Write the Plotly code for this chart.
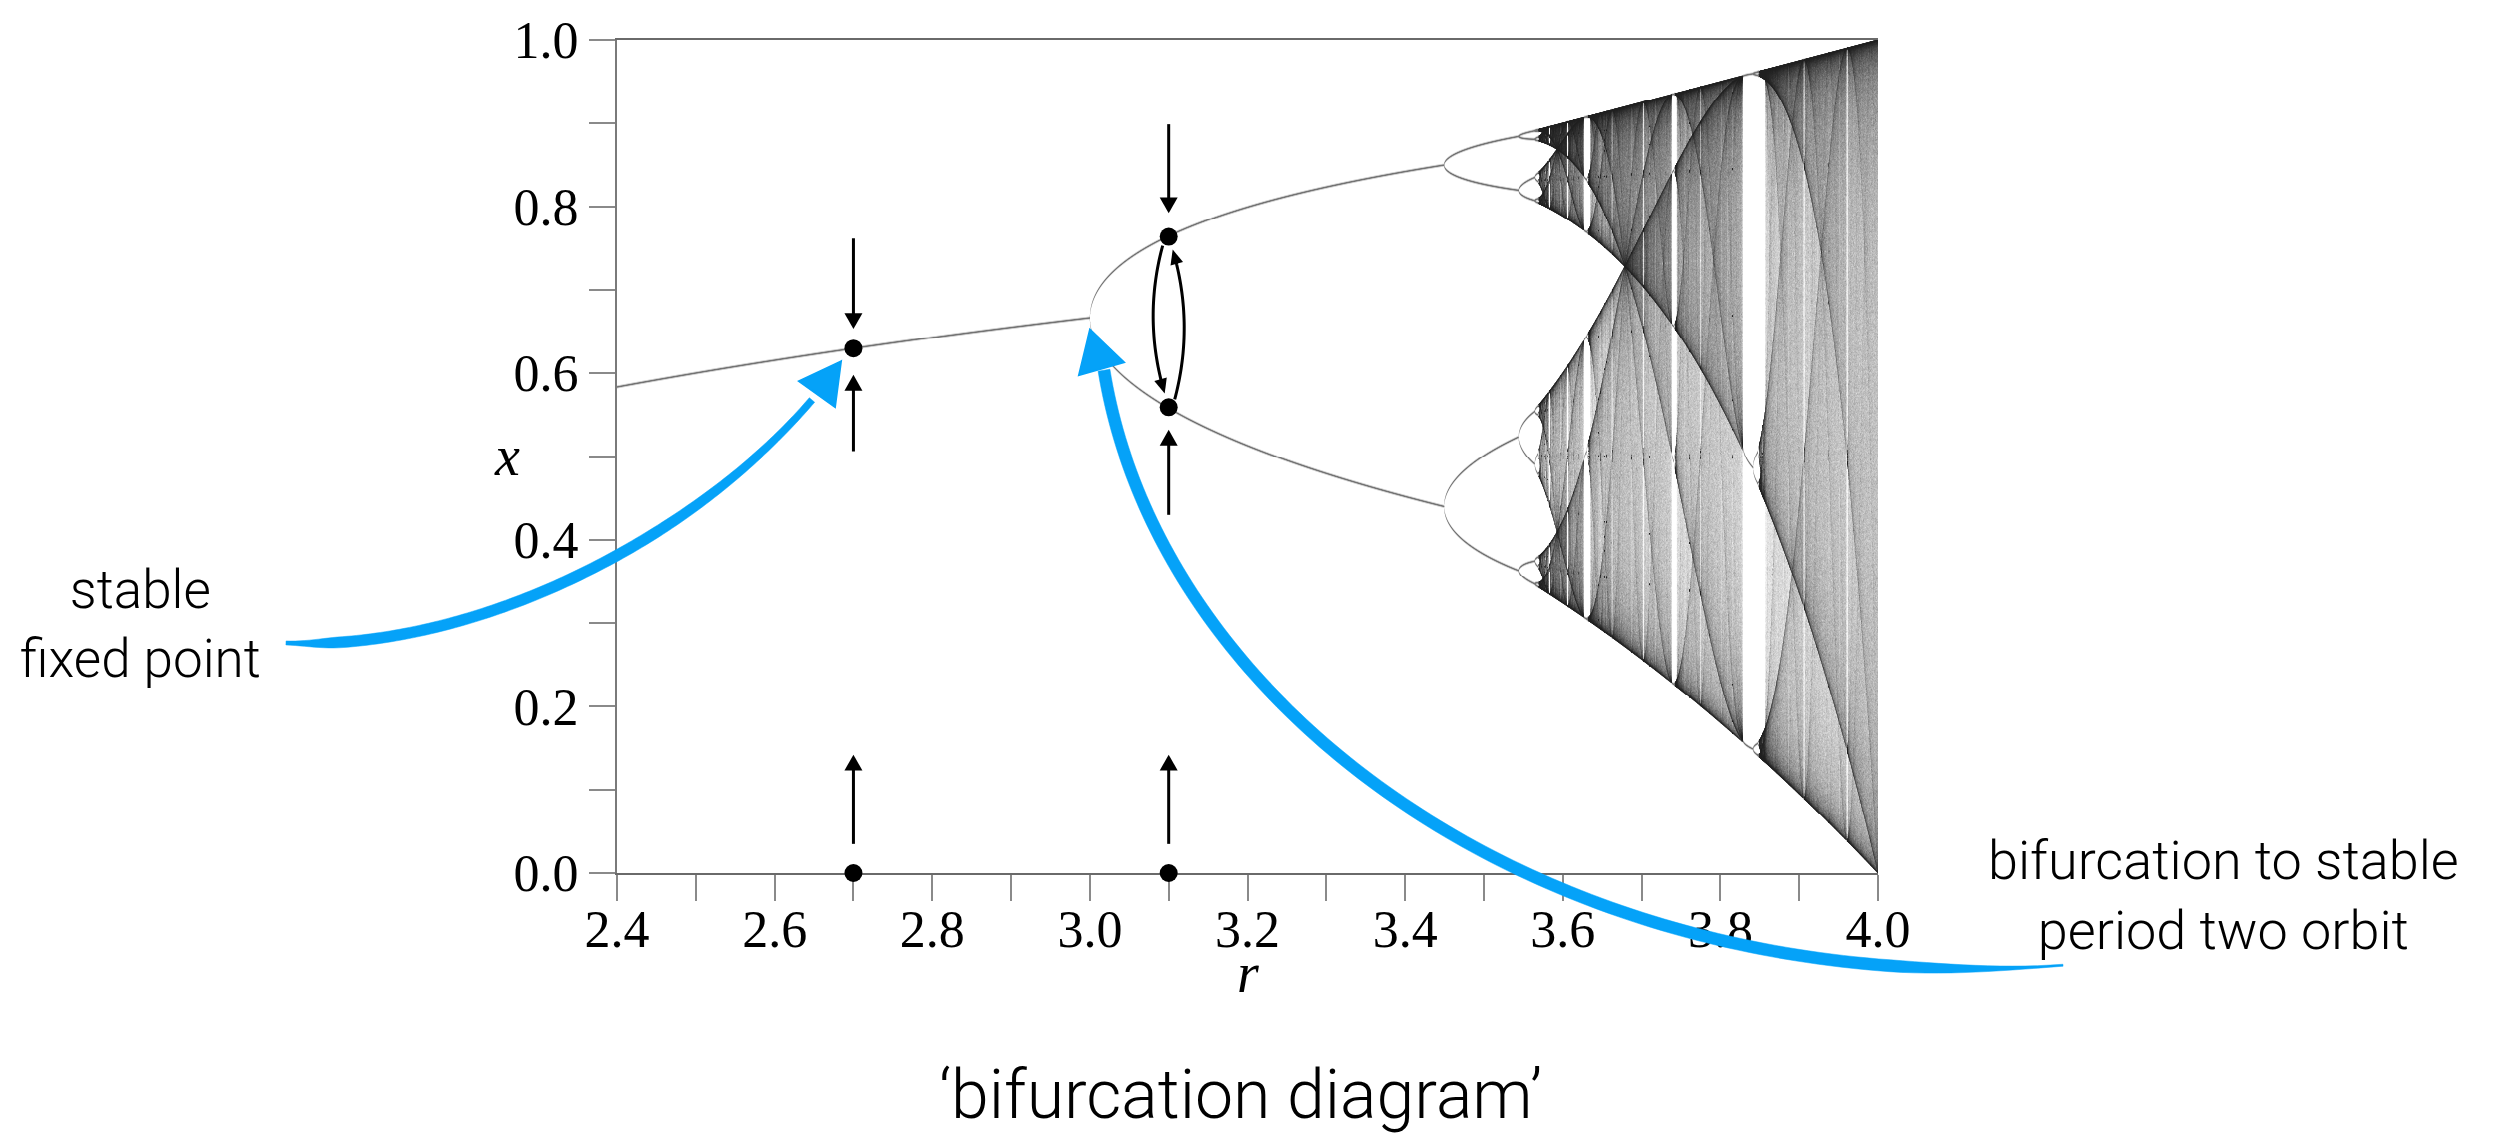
import numpy as np
import plotly.graph_objects as go

# ---------------- logistic map sweep: x -> r x (1 - x) ----------------
R_RANGE = [2.4, 4.0]
X_RANGE = [0.0, 1.0]
N_COLS, N_ROWS = 1261, 840        # one heatmap cell per screen pixel
SUB = 6                            # r samples per column
N_TRANSIENT = 20000
N_KEEP = 6000
X_START = 0.2371

# marked orbit points (fixed point at r = 2.7, period-two orbit at r = 3.1, x = 0)
point_r = [2.7, 3.1, 3.1, 2.7, 3.1]
point_x = [0.63, 0.764, 0.559, 0.0, 0.0]

# straight arrows at fixed r: tail value and tip value of x
arrow_r = [2.7, 2.7, 2.7, 3.1, 3.1, 3.1]
arrow_tail = [0.762, 0.506, 0.035, 0.899, 0.430, 0.035]
arrow_tip = [0.653, 0.598, 0.142, 0.792, 0.532, 0.142]

# hops of the period-two orbit at r = 3.1
hop_r = 3.1
hop_from = [0.764, 0.559]
hop_to = [0.559, 0.764]

x_tick_vals = [2.4, 2.6, 2.8, 3.0, 3.2, 3.4, 3.6, 3.8, 4.0]
x_tick_text = ["2.4", "2.6", "2.8", "3.0", "3.2", "3.4", "3.6", "3.8", "4.0"]
x_minor_vals = [2.5, 2.7, 2.9, 3.1, 3.3, 3.5, 3.7, 3.9]
y_tick_vals = [0.0, 0.2, 0.4, 0.6, 0.8, 1.0]
y_tick_text = ["0.0", "0.2", "0.4", "0.6", "0.8", "1.0"]
y_minor_vals = [0.1, 0.3, 0.5, 0.7, 0.9]

# ---------------- page geometry ----------------
W, H = 2495, 1135
PL, PT, PW, PH = 617, 33, 1261, 840
BLUE = "#05a2f8"


def d2px(r, x):
    px = PL + (r - R_RANGE[0]) / (R_RANGE[1] - R_RANGE[0]) * PW
    py = PT + (1 - (x - X_RANGE[0]) / (X_RANGE[1] - X_RANGE[0])) * PH
    return px, py


def px2paper(px, py):
    return (px - PL) / PW, (PT + PH - py) / PH


def path_str(pts, close=False):
    s = []
    for i, (px, py) in enumerate(pts):
        u, v = px2paper(px, py)
        s.append(("M" if i == 0 else "L") + f"{u:.5f},{v:.5f}")
    return " ".join(s) + (" Z" if close else "")


# ---------------- density image of the attractor ----------------
n = N_COLS * SUB
r_grid = R_RANGE[0] + (np.arange(n) + 0.5) / n * (R_RANGE[1] - R_RANGE[0])
col_of = np.arange(n) // SUB
x = np.full(n, X_START)
for _ in range(N_TRANSIENT):
    x = r_grid * x * (1.0 - x)

tail = np.empty((96, n))
for k in range(96):
    x = r_grid * x * (1.0 - x)
    tail[k] = x

period = np.zeros(n, dtype=int)
for P in range(1, 33):
    ok = np.max(np.abs(tail[-64:] - tail[-64 - P:-P]), axis=0) < 2e-4
    period[(period == 0) & ok] = P

line_acc = np.zeros(N_ROWS * N_COLS)
dens_acc = np.zeros(N_ROWS * N_COLS)


def splat(acc, vals, cols, w):
    cols = np.broadcast_to(cols, vals.shape).ravel()
    pos = vals.ravel() * N_ROWS - 0.5
    i0 = np.floor(pos).astype(np.int64)
    f = pos - i0
    for idx, ww in ((i0, (1.0 - f) * w), (i0 + 1, f * w)):
        ok = (idx >= 0) & (idx < N_ROWS)
        acc += np.bincount(idx[ok] * N_COLS + cols[ok], weights=ww[ok],
                           minlength=N_ROWS * N_COLS)


for P in np.unique(period[period > 0]):
    sel = period == P
    splat(line_acc, tail[-P:, sel], col_of[sel], 1.0)

chaotic = period == 0
xc, rc, cc = x[chaotic], r_grid[chaotic], col_of[chaotic]
CHUNK = 250
for _ in range(N_KEEP // CHUNK):
    block = np.empty((CHUNK, xc.size))
    for k in range(CHUNK):
        xc = rc * xc * (1.0 - xc)
        block[k] = xc
    splat(dens_acc, block, cc, 1.0 / N_KEEP)

L = (line_acc / SUB).reshape(N_ROWS, N_COLS)
# soften the periodic branches into ~1.5 px anti-aliased strokes
Lb = L.copy()
Lb[1:] += 0.3 * L[:-1]
Lb[:-1] += 0.3 * L[1:]
D = (dens_acc / SUB).reshape(N_ROWS, N_COLS)
dark = np.maximum(0.55 * np.clip(1.3 * Lb, 0, 1), 0.88 * (1 - np.exp(-420.0 * D)))
z = np.round(dark * 255).astype(np.uint8)

dx = (R_RANGE[1] - R_RANGE[0]) / N_COLS
dy = (X_RANGE[1] - X_RANGE[0]) / N_ROWS

fig = go.Figure()
fig.add_trace(go.Heatmap(
    z=z, x0=R_RANGE[0] + dx / 2, dx=dx, y0=X_RANGE[0] + dy / 2, dy=dy,
    colorscale=[[0, "rgba(0,0,0,0)"], [1, "rgba(0,0,0,1)"]], zmin=0, zmax=255,
    showscale=False, hoverinfo="skip", zsmooth=False,
))
fig.add_trace(go.Scatter(
    x=point_r, y=point_x, mode="markers",
    marker=dict(size=18, color="black"), cliponaxis=False, hoverinfo="skip",
))

shapes = []


def arrow(points, color, lw, head_len, head_w):
    """Polyline in px ending in a filled triangular head."""
    pts = np.asarray(points, dtype=float)
    tip = pts[-1]
    d = tip - pts[-2]
    d /= np.hypot(*d)
    base = tip - d * head_len
    keep = [p for p in pts[:-1] if np.dot(tip - p, d) > head_len]
    shaft = keep + [base + d * 2]
    perp = np.array([-d[1], d[0]])
    head = [tip, base + perp * head_w / 2, base - perp * head_w / 2]
    shapes.append(dict(type="path", path=path_str(shaft), xref="paper", yref="paper",
                       line=dict(color=color, width=lw), layer="above"))
    shapes.append(dict(type="path", path=path_str(head, close=True), xref="paper",
                       yref="paper", line=dict(color=color, width=0),
                       fillcolor=color, layer="above"))


for r, a, b in zip(arrow_r, arrow_tail, arrow_tip):
    arrow([d2px(r, a), d2px(r, b)], "black", 3, 16, 18)

# curved hops between the two orbit points
for xa, xb in zip(hop_from, hop_to):
    pa = np.array(d2px(hop_r, xa))
    pb = np.array(d2px(hop_r, xb))
    side = -1 if xb < xa else 1          # downward hop bows left, upward bows right
    start = pa + np.array([side * 6, 9 if xb < xa else -8])
    end = pb + np.array([side * 4, -14 if xb < xa else 13])
    ctrl = np.array([pa[0] + side * 26, (start[1] + end[1]) / 2])
    t = np.linspace(0, 1, 40)[:, None]
    curve = (1 - t) ** 2 * start + 2 * (1 - t) * t * ctrl + t ** 2 * end
    arrow(curve, "black", 3, 15, 13)


# brush-stroke call-out arrows (cubic Bezier spines in px)
def bezier(p0, p1, p2, p3, m=120):
    t = np.linspace(0, 1, m)[:, None]
    p0, p1, p2, p3 = (np.asarray(p, dtype=float) for p in (p0, p1, p2, p3))
    return ((1 - t) ** 3 * p0 + 3 * (1 - t) ** 2 * t * p1
            + 3 * (1 - t) * t ** 2 * p2 + t ** 3 * p3)


def ribbon(curve, widths):
    g = np.gradient(curve, axis=0)
    g /= np.hypot(g[:, 0], g[:, 1])[:, None]
    nrm = np.stack([-g[:, 1], g[:, 0]], axis=1)
    left = curve + nrm * widths[:, None] / 2
    right = curve - nrm * widths[:, None] / 2
    return np.vstack([left, right[::-1]])


def smooth(a, b, t):
    s = np.clip((t - a) / (b - a), 0, 1)
    return s * s * (3 - 2 * s)


callouts = [
    dict(ctrl=[(286, 641), (470, 650), (690, 540), (812, 396)],
         head=[(841, 357), (799, 377), (835, 403)],
         width=lambda t: 4 + 7 * smooth(0, 0.1, t) - 4 * smooth(0.6, 1, t)),
    dict(ctrl=[(2063, 966), (1560, 1005), (1160, 715), (1104, 366)],
         head=[(1090, 325), (1079, 371), (1124, 358)],
         width=lambda t: 2 + 10 * smooth(0, 0.12, t)),
]
for c in callouts:
    cur = bezier(*c["ctrl"])
    t = np.linspace(0, 1, len(cur))
    poly = ribbon(cur, c["width"](t))
    shapes.append(dict(type="path", path=path_str(poly, close=True), xref="paper",
                       yref="paper", line=dict(color=BLUE, width=0.5),
                       fillcolor=BLUE, layer="above"))
    shapes.append(dict(type="path", path=path_str(c["head"], close=True), xref="paper",
                       yref="paper", line=dict(color=BLUE, width=2), fillcolor=BLUE,
                       layer="above"))

sans = dict(family="Roboto", size=53, color="black", weight=300)
serif_it = dict(family="Liberation Serif", size=56, color="black", style="italic")


def note(text, px, py, font):
    u, v = px2paper(px, py)
    return dict(text=text, x=u, y=v, xref="paper", yref="paper", showarrow=False,
                xanchor="center", yanchor="middle", font=font, align="center")


annotations = [
    note("stable<br>fixed point", 140, 622, sans),
    note("bifurcation to stable<br>period two orbit", 2223, 896, dict(sans, size=54)),
    note("\u2018bifurcation diagram\u2019", 1240, 1097, dict(sans, size=68)),
    note("x", 507, 452, serif_it),
    note("r", 1248, 974, serif_it),
]

tick_font = dict(family="Liberation Serif", size=52, color="black")
axis_common = dict(
    ticks="outside", ticklen=26, tickwidth=2, tickcolor="#8a8a8a",
    showline=True, linewidth=2, showgrid=False, zeroline=False,
    tickfont=tick_font, tickmode="array", layer="below traces",
)

fig.update_layout(
    width=W, height=H,
    margin=dict(l=PL, r=W - PL - PW, t=PT, b=H - PT - PH),
    paper_bgcolor="white", plot_bgcolor="white",
    showlegend=False,
    xaxis=dict(axis_common, range=R_RANGE, tickvals=x_tick_vals, ticktext=x_tick_text,
               linecolor="#6a6a6a", mirror=True, ticklabelstandoff=-16,
               minor=dict(tickvals=x_minor_vals, ticks="outside", ticklen=26,
                          tickwidth=2, tickcolor="#8a8a8a")),
    yaxis=dict(axis_common, range=X_RANGE, tickvals=y_tick_vals, ticktext=y_tick_text,
               linecolor="#7a7a7a",
               minor=dict(tickvals=y_minor_vals, ticks="outside", ticklen=26,
                          tickwidth=2, tickcolor="#8a8a8a")),
    shapes=shapes,
    annotations=annotations,
)

fig.write_html("out.html")
